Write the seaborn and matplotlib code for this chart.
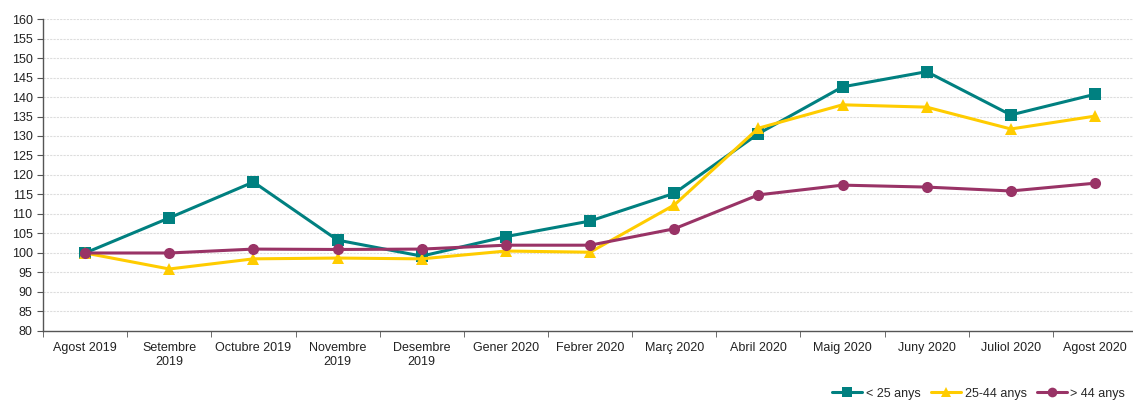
import numpy as np
import pandas as pd
import matplotlib
matplotlib.use('Agg')
import matplotlib.pyplot as plt
import seaborn as sns

months = ['Agost 2019', 'Setembre\n2019', 'Octubre 2019', 'Novembre\n2019', 'Desembre\n2019',
          'Gener 2020', 'Febrer 2020', 'Març 2020', 'Abril 2020', 'Maig 2020',
          'Juny 2020', 'Juliol 2020', 'Agost 2020']
under25 = [100, 109.0, 118.2, 103.3, 99.2, 104.2, 108.2, 115.3, 130.6, 142.6, 146.5, 135.4, 140.7]
mid25_44 = [100, 95.9, 98.5, 98.7, 98.5, 100.5, 100.2, 112.3, 132.0, 138.0, 137.4, 131.8, 135.1]
over44 = [100, 100.0, 101.0, 100.9, 101.0, 102.0, 102.0, 106.2, 114.9, 117.4, 116.9, 115.9, 117.9]

series_names = ['< 25 anys', '25-44 anys', '> 44 anys']
colors = ['#008080', '#FFCC00', '#993366']
markers = ['s', '^', 'o']

df = pd.DataFrame({'mes': np.arange(len(months)),
                   series_names[0]: under25,
                   series_names[1]: mid25_44,
                   series_names[2]: over44})
long = df.melt(id_vars='mes', var_name='grup', value_name='index')

sns.set_style('white')
plt.rcParams['font.family'] = ['Liberation Sans', 'DejaVu Sans']

fig = plt.figure(figsize=(11.33, 4.01), dpi=100)
ax = fig.add_axes([0.038, 0.1746, 0.9656, 0.778])

sns.lineplot(data=long, x='mes', y='index', hue='grup', style='grup',
             palette=colors, markers=markers, dashes=False, markersize=8,
             linewidth=2.2, markeredgewidth=0, ax=ax, legend=False)

ax.set_xlim(-0.5, len(months) - 0.5)
ax.set_ylim(80, 160)
ax.set_yticks(np.arange(80, 161, 5))
ax.yaxis.grid(True, color='#dddddd', linestyle=(0, (2, 1)), linewidth=0.8)
ax.set_axisbelow(True)

ax.set_xticks(np.arange(len(months)))
ax.set_xticklabels(months, fontsize=9, color='#222222')
ax.set_xticks(np.arange(-0.5, len(months)), minor=True)
ax.tick_params(axis='x', which='major', length=0, pad=8)
ax.tick_params(axis='x', which='minor', length=4, color='#555555', direction='out', bottom=True)
ax.tick_params(axis='y', length=4, color='#555555', direction='out', left=True, labelsize=9, labelcolor='#222222')

for s in ['top', 'right']:
    ax.spines[s].set_visible(False)
for s in ['left', 'bottom']:
    ax.spines[s].set_color('#555555')
    ax.spines[s].set_linewidth(1)
ax.set_xlabel('')
ax.set_ylabel('')

handles = [plt.Line2D([], [], color=c, marker=m, markersize=7, linewidth=2.2, markeredgewidth=0)
           for c, m in zip(colors, markers)]
fig.legend(handles, series_names, loc='lower right', bbox_to_anchor=(1.003, -0.025), ncol=3,
           frameon=False, fontsize=9, handlelength=2.4, handletextpad=0.3, columnspacing=0.8)

fig.savefig('out.png', dpi=100)
